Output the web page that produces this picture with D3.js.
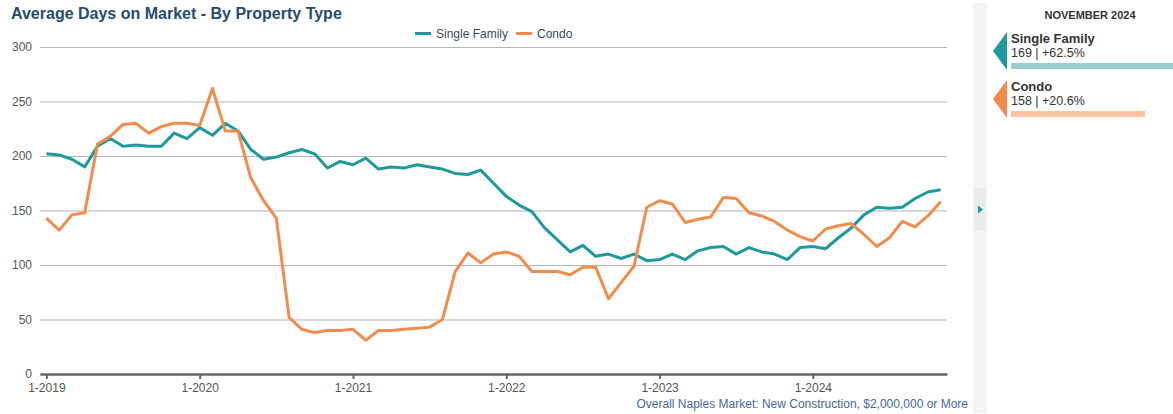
<!DOCTYPE html>
<html>
<head>
<meta charset="utf-8">
<script src="https://cdn.jsdelivr.net/npm/d3@7"></script>
<style>
  body { margin: 0; background: #fff; }
  svg { font-family: "Liberation Sans", Arial, sans-serif; }
</style>
</head>
<body>
<div id="chart"></div>
<script>
// Monthly, Jan 2019 .. Nov 2024
const months = d3.timeMonth.range(new Date(2019, 0, 1), new Date(2024, 11, 1));
const yearTicks = ["1-2019", "1-2020", "1-2021", "1-2022", "1-2023", "1-2024"];
const yTicks = [0, 50, 100, 150, 200, 250, 300];

const singleFamily = [
  202, 201, 197, 190, 209, 216, 209, 210, 209, 209, 221, 216,
  226, 219, 230, 223, 206, 197, 199, 203, 206, 202, 189, 195,
  192, 198, 188, 190, 189, 192, 190, 188, 184, 183, 187, 175,
  163, 155, 149, 134, 123, 112, 118, 108, 110, 106, 110, 104,
  105, 110, 105, 113, 116, 117, 110, 116, 112, 110, 105, 116,
  117, 115, 125, 134, 146, 153, 152, 153, 161, 167, 169
];
const condo = [
  143, 132, 146, 148, 211, 218, 229, 230, 221, 227, 230, 230,
  228, 262, 223, 223, 180, 159, 143, 52, 41, 38, 40, 40,
  41, 31, 40, 40, 41, 42, 43, 50, 94, 111, 102, 110,
  112, 108, 94, 94, 94, 91, 98, 98, 69, 84, 99, 153,
  159, 156, 139, 142, 144, 162, 161, 148, 145, 140, 132, 126,
  122, 133, 136, 138, 128, 117, 125, 140, 135, 145, 158
];

const seriesNames = ["Single Family", "Condo"];
const seriesColors = ["#1f9a9c", "#f28c4e"];
const barColors = ["#99d0cf", "#f8c5a4"];
const panelMonth = "NOVEMBER 2024";
const panelValues = [169, 158];
const panelChange = [62.5, 20.6];

const W = 1173, H = 414;
const margin = { left: 40, right: 226, top: 47, bottom: 40 };

var svg = d3.select("#chart").append("svg")
  .attr("width", W)
  .attr("height", H);

var xScale = d3.scalePoint()
  .domain(d3.range(months.length))
  .range([margin.left, W - margin.right])
  .padding(0.5);

var yScale = d3.scaleLinear()
  .domain([0, 300])
  .range([H - margin.bottom, margin.top]);

// title
svg.append("text")
  .attr("x", 11)
  .attr("y", 19)
  .attr("font-size", 16)
  .attr("font-weight", "bold")
  .attr("fill", "#274b6d")
  .text("Average Days on Market - By Property Type");

// gridlines + y labels
var yAxis = svg.append("g")
  .attr("transform", "translate(" + margin.left + ",0)")
  .call(d3.axisLeft(yScale).tickValues(yTicks).tickSize(-(W - margin.right - margin.left)).tickPadding(8));
yAxis.select(".domain").remove();
yAxis.selectAll(".tick line").attr("stroke", "#b5b5b5");
yAxis.selectAll(".tick text")
  .attr("font-size", 12)
  .attr("fill", "#555")
  .attr("font-family", "Liberation Sans, Arial, sans-serif");

// x axis
var jan = months.map((d, i) => i).filter(i => months[i].getMonth() == 0);
var xAxis = svg.append("g")
  .attr("transform", "translate(0," + yScale(0) + ")")
  .call(d3.axisBottom(xScale).tickValues(jan).tickSize(5).tickSizeOuter(0)
    .tickFormat((d, i) => yearTicks[i]));
xAxis.select(".domain").attr("stroke", "#666").attr("stroke-width", 2.5);
xAxis.selectAll(".tick line").attr("stroke", "#666").attr("stroke-width", 2);
xAxis.selectAll(".tick text")
  .attr("font-size", 12)
  .attr("fill", "#555")
  .attr("font-family", "Liberation Sans, Arial, sans-serif")
  .attr("dy", "0.85em");

// lines
var line = d3.line()
  .x((d, i) => xScale(i))
  .y(d => yScale(d));

[singleFamily, condo].forEach(function (s, k) {
  svg.append("path")
    .datum(s)
    .attr("fill", "none")
    .attr("stroke", seriesColors[k])
    .attr("stroke-width", 3)
    .attr("stroke-linejoin", "round")
    .attr("d", line);
});

// legend
var legX = [415, 516];
seriesNames.forEach(function (n, k) {
  var g = svg.append("g").attr("transform", "translate(" + legX[k] + ",33.5)");
  g.append("rect").attr("x", 0).attr("y", -1.5).attr("width", 16).attr("height", 3).attr("fill", seriesColors[k]);
  g.append("text").attr("x", 21).attr("y", 4).attr("font-size", 12).attr("fill", "#3b4a5c").text(n);
});

// footer note
svg.append("text")
  .attr("x", 968)
  .attr("y", 408)
  .attr("text-anchor", "end")
  .attr("font-size", 12)
  .attr("fill", "#44699a")
  .text("Overall Naples Market: New Construction, $2,000,000 or More");

// side panel collapse strip
svg.append("rect").attr("x", 974).attr("y", 4).attr("width", 12).attr("height", 408)
  .attr("fill", "#f5f5f5").attr("stroke", "#ededed");
svg.append("rect").attr("x", 974.5).attr("y", 188).attr("width", 11).attr("height", 42).attr("fill", "#ebebeb");
svg.append("path").attr("d", "M978,205.5L983,209.5L978,213.5Z").attr("fill", seriesColors[0]);

// side panel
svg.append("text")
  .attr("x", 1090)
  .attr("y", 19)
  .attr("text-anchor", "middle")
  .attr("font-size", 11)
  .attr("font-weight", "bold")
  .attr("fill", "#333")
  .text(panelMonth);

var barScale = d3.scaleLinear().domain([-180, 62.5]).range([0, 162]);
seriesNames.forEach(function (n, k) {
  var top = 32 + k * 48;
  var g = svg.append("g").attr("transform", "translate(0," + top + ")");
  g.append("path")
    .attr("d", "M1007,0L993,19L1007,38Z")
    .attr("fill", seriesColors[k]);
  g.append("text").attr("x", 1011).attr("y", 11).attr("font-size", 13)
    .attr("font-weight", "bold").attr("fill", "#333").text(n);
  g.append("text").attr("x", 1011).attr("y", 25).attr("font-size", 12.5)
    .attr("fill", "#333").text(panelValues[k] + " | +" + panelChange[k] + "%");
  g.append("rect").attr("x", 1011).attr("y", 31).attr("height", 6)
    .attr("width", barScale(panelChange[k])).attr("fill", barColors[k]);
});
</script>
</body>
</html>
